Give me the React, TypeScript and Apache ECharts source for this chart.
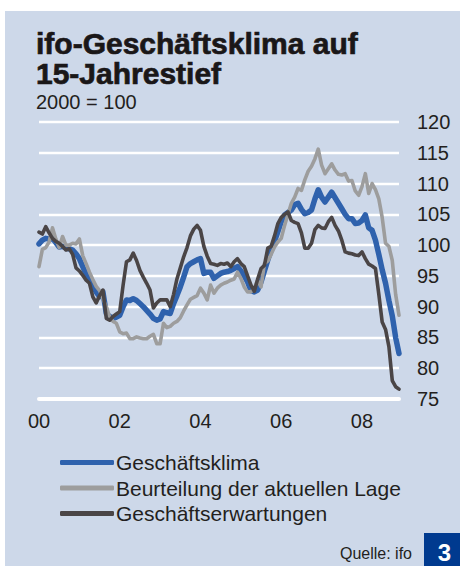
import React, { useEffect, useRef } from "react";
import * as echarts from "echarts";

// ---- data (2000 = 100), monthly Jan 2000 – Dec 2008 ----
const years = ["00", "01", "02", "03", "04", "05", "06", "07", "08"];
const monthNums = ["01", "02", "03", "04", "05", "06", "07", "08", "09", "10", "11", "12"];
const categories: string[] = years.flatMap((y) => monthNums.map((m) => `${y}-${m}`));
const xTickLabels = ["00", "02", "04", "06", "08"];
const yTicks = [75, 80, 85, 90, 95, 100, 105, 110, 115, 120];

const seriesNames = [
  "Geschäftsklima",
  "Beurteilung der aktuellen Lage",
  "Geschäftserwartungen",
];

const geschaeftsklima = [
  100.2, 100.8, 101.1, 101.0, 101.1, 100.4, 99.7, 99.8, 99.5, 99.4, 99.2, 98.6,
  97.8, 96.5, 95.3, 94.6, 93.4, 92.4, 91.6, 92.4, 88.9, 88.4, 88.1, 88.3,
  88.6, 90.0, 91.1, 91.0, 91.3, 91.0, 90.5, 90.0, 89.4, 88.8, 88.1, 87.8,
  88.0, 89.2, 89.0, 88.9, 90.5, 91.8, 93.2, 94.8, 96.5, 97.0, 97.3, 97.6,
  97.8, 95.4, 95.6, 95.6, 94.6, 95.0, 95.4, 95.6, 95.7, 95.9, 96.2, 96.5,
  95.8, 95.0, 94.0, 92.6, 92.4, 92.7, 94.0, 95.8, 97.6, 99.2, 100.6, 102.2,
  103.8, 104.9, 105.3, 105.7, 106.6, 106.8, 105.8, 105.1, 105.3, 105.7, 107.5, 109.0,
  107.8, 107.0, 107.8, 108.6, 107.7, 106.8, 105.9, 105.0, 104.3, 104.3, 103.5, 103.6,
  104.0, 104.9, 102.8, 102.4, 100.8, 98.5, 96.0, 93.8, 91.0, 88.5, 85.0, 82.4,
];

const aktuelleLage = [
  96.5, 99.3, 99.6, 100.5, 102.8, 101.0, 99.6, 101.4, 100.0, 100.0, 100.3, 100.2,
  101.0, 98.3, 97.0, 95.6, 94.4, 93.3, 92.6, 91.3, 90.0, 88.3, 87.6, 87.3,
  85.9, 85.6, 85.7, 84.8, 84.8, 85.1, 84.9, 84.8, 84.8, 85.2, 85.5, 84.0,
  84.0, 87.3, 86.6, 86.8, 87.3, 87.6, 88.2, 89.3, 90.3, 91.2, 91.5, 91.8,
  93.0, 92.2, 91.1, 93.5, 92.2, 93.0, 93.5, 93.8, 94.0, 94.3, 94.5, 95.6,
  94.6, 93.2, 92.4, 92.4, 93.0, 94.3, 93.2, 97.0, 97.4, 98.5, 99.7, 100.5,
  101.1, 103.2, 105.0, 106.8, 107.8, 109.2, 108.9, 110.6, 112.0, 112.8, 114.0, 115.6,
  113.0, 111.6, 112.4, 113.2, 112.2, 111.5, 111.4, 111.6, 110.4, 110.5, 108.8, 108.1,
  109.5, 111.6, 108.4, 110.0, 109.0, 107.5, 104.5, 100.3, 99.8, 97.5, 92.0, 88.6,
];

const erwartungen = [
  102.1, 101.8, 103.0, 102.0, 101.1, 100.6, 100.3, 99.8, 99.2, 99.4, 98.5, 96.3,
  95.8, 95.1, 94.3, 93.8, 91.6, 90.6, 91.8, 92.7, 88.1, 87.8, 88.4, 88.8,
  89.2, 93.5, 97.3, 97.6, 98.7, 97.5, 95.9, 94.8, 93.8, 92.7, 89.8, 90.6,
  91.1, 91.1, 91.1, 90.0, 92.0, 94.5, 96.3, 98.1, 99.6, 101.5, 102.6, 103.2,
  102.4, 99.8, 98.2, 97.0, 96.9, 96.7, 97.0, 96.9, 97.1, 96.5, 97.3, 97.8,
  97.0, 96.5, 95.0, 93.5, 92.5, 94.5, 96.2, 96.7, 99.5, 99.8, 101.5, 103.5,
  104.5, 105.0, 105.4, 104.0, 103.7, 103.5, 102.0, 99.5, 99.5, 100.3, 102.5, 103.2,
  102.8, 102.7, 103.8, 104.5, 103.2, 102.3, 100.8, 98.9, 98.7, 98.6, 98.4, 98.3,
  98.9, 97.8, 96.9, 96.6, 96.2, 92.0, 87.5, 86.3, 83.5, 78.0, 77.0, 76.6,
];

const colors = ["#2f62ad", "#9d9d9d", "#4a4546"];
const widths = [5.5, 3.6, 3.6];

const FONT = "'Liberation Sans', Arial, Helvetica, sans-serif";
const TEXT = "#231f20";

export default function App() {
  const ref = useRef<HTMLDivElement>(null);

  useEffect(() => {
    if (!ref.current) return;
    const chart = echarts.init(ref.current, null, { renderer: "svg" });
    const values = [geschaeftsklima, aktuelleLage, erwartungen];

    const titleStyle = {
      font: `bold 30px ${FONT}`,
      fill: "#1a1718",
      stroke: "#1a1718",
      lineWidth: 0.7,
      verticalAlign: "middle",
    };

    const option: any = {
      animation: false,
      backgroundColor: "#cdd8e9",
      textStyle: { fontFamily: FONT },
      grid: { left: 39, right: 61, top: 122, bottom: 167 },
      xAxis: {
        type: "category",
        data: categories,
        boundaryGap: false,
        axisTick: { show: false },
        axisLine: { show: true, lineStyle: { color: "#ffffff", width: 4, cap: "round" } },
        splitLine: { show: false },
        axisLabel: {
          interval: (index: number) => index % 24 === 0,
          formatter: (val: string) => {
            const y = val.slice(0, 2);
            return xTickLabels.includes(y) ? y : "";
          },
          fontSize: 20,
          color: TEXT,
          fontFamily: FONT,
          margin: 12,
        },
      },
      yAxis: {
        type: "value",
        position: "right",
        min: yTicks[0],
        max: yTicks[yTicks.length - 1],
        interval: 5,
        axisLine: { show: false },
        axisTick: { show: false },
        splitLine: { show: true, lineStyle: { color: "#ffffff", width: 2.4 } },
        axisLabel: { fontSize: 20, color: TEXT, fontFamily: FONT, margin: 18 },
      },
      legend: {
        orient: "vertical",
        left: 60,
        top: 452,
        padding: 0,
        itemWidth: 54,
        itemHeight: 5,
        itemGap: 4.5,
        icon: "roundRect",
        selectedMode: false,
        data: seriesNames,
        textStyle: { fontSize: 21, color: TEXT, fontFamily: FONT, padding: [0, 0, 0, -3] },
      },
      series: seriesNames.map((name, i) => ({
        name,
        type: "line",
        data: values[i],
        symbol: "none",
        smooth: false,
        itemStyle: { color: colors[i] },
        lineStyle: { color: colors[i], width: widths[i], join: "round", cap: "round" },
        z: 2 + i,
      })),
      graphic: [
        { type: "rect", shape: { x: 0, y: 0, width: 460, height: 11 }, style: { fill: "#ffffff" }, z: 100 },
        { type: "rect", shape: { x: 0, y: 0, width: 5, height: 566 }, style: { fill: "#ffffff" }, z: 100 },
        {
          type: "text",
          x: 36,
          y: 43.5,
          style: { ...titleStyle, text: "ifo-Geschäftsklima auf" },
          z: 100,
        },
        {
          type: "text",
          x: 36,
          y: 73.5,
          style: { ...titleStyle, text: "15-Jahrestief" },
          z: 100,
        },
        {
          type: "text",
          x: 36,
          y: 101.5,
          style: { text: "2000 = 100", font: `20px ${FONT}`, fill: TEXT, verticalAlign: "middle" },
          z: 100,
        },
        {
          type: "text",
          x: 412,
          y: 553.5,
          style: { text: "Quelle: ifo", font: `16px ${FONT}`, fill: TEXT, align: "right", verticalAlign: "middle" },
          z: 100,
        },
        { type: "rect", shape: { x: 424, y: 533, width: 36, height: 33 }, style: { fill: "#003a8f" }, z: 100 },
        {
          type: "text",
          x: 444.5,
          y: 552,
          style: { text: "3", font: `bold 24px ${FONT}`, fill: "#ffffff", align: "center", verticalAlign: "middle" },
          z: 101,
        },
      ],
    };

    chart.setOption(option);
    return () => chart.dispose();
  }, []);

  return (
    <div
      ref={ref}
      style={{ position: "absolute", left: 0, top: 0, width: 460, height: 566 }}
    />
  );
}
